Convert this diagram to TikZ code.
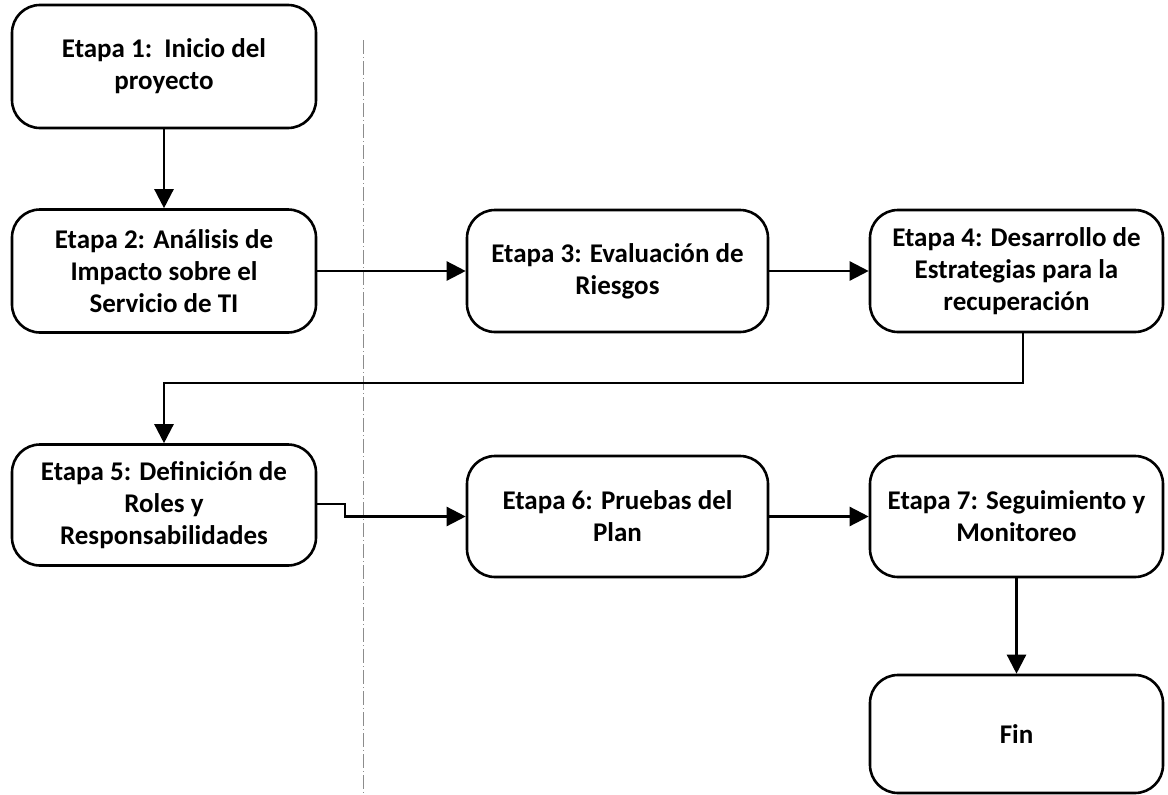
\documentclass[tikz,border=0pt]{standalone}
\usepackage{fontspec}
\setmainfont{Carlito}
\usetikzlibrary{arrows.meta}
\begin{document}
\begin{tikzpicture}[x=1pt,y=-1pt,
  stage/.style={draw=black, line width=2.6pt, rounded corners=28pt, align=center,
    font=\fontsize{27}{32}\selectfont\bfseries, inner sep=0pt},
  conn/.style={line width=2.4pt, -{Triangle[length=19pt,width=19pt]}},
  fold/.style={draw=black!45, line width=0.5pt, dash pattern=on 14pt off 3pt on 1pt off 3pt}]
\useasboundingbox (0,0) rectangle (1168,795);
\draw[fold] (363,40) -- (363,795);
\node[stage, minimum width=304pt, minimum height=123pt] (s1) at (164,66.5) {Etapa 1:\ \ Inicio del\\proyecto};
\node[stage, minimum width=304pt, minimum height=123pt] (s2) at (164,271) {Etapa 2: Análisis de\\Impacto sobre el\\Servicio de TI};
\node[stage, minimum width=301pt, minimum height=122pt] (s3) at (617.5,271) {Etapa 3: Evaluación de\\Riesgos};
\node[stage, minimum width=293pt, minimum height=122pt] (s4) at (1016.5,271) {Etapa 4: Desarrollo de\\Estrategias para la\\recuperación};
\node[stage, minimum width=304pt, minimum height=121pt] (s5) at (164,505) {Etapa 5: Definición de\\Roles y\\Responsabilidades};
\node[stage, minimum width=301pt, minimum height=121pt] (s6) at (617.5,516.5) {Etapa 6: Pruebas del\\Plan};
\node[stage, minimum width=293pt, minimum height=121pt] (s7) at (1016.5,516.5) {Etapa 7: Seguimiento y\\Monitoreo};
\node[stage, minimum width=293pt, minimum height=118pt] (fin) at (1016.5,734) {Fin};
\coordinate (c4a) at (1023,383);
\coordinate (c4b) at (164,383);
\coordinate (c5a) at (345,504);
\coordinate (c5b) at (345,516.5);
\draw[conn] (s1.south) -- (s2.north);
\draw[conn] (s2.east) -- (s3.west);
\draw[conn] (s3.east) -- (s4.west);
\draw[conn] (s4.south -| c4a) -- (c4a) -- (c4b) -- (s5.north);
\draw[conn] (s5.east |- c5a) -- (c5a) -- (c5b) -- (s6.west);
\draw[conn] (s6.east) -- (s7.west);
\draw[conn] (s7.south -| fin.north) -- (fin.north);
\end{tikzpicture}
\end{document}
